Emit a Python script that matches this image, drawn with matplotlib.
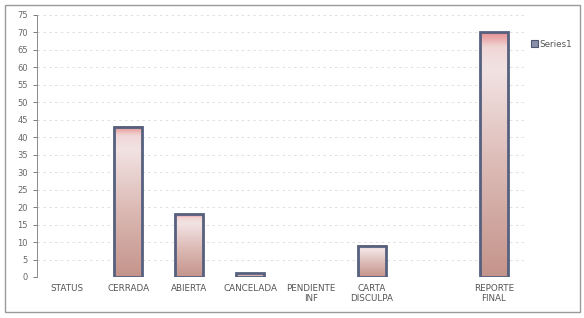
import numpy as np
import matplotlib
matplotlib.use("Agg")
import matplotlib.pyplot as plt
from matplotlib.colors import LinearSegmentedColormap
from matplotlib.patches import Rectangle

categories = ["STATUS", "CERRADA", "ABIERTA", "CANCELADA", "PENDIENTE\nINF",
              "CARTA\nDISCULPA", "", "REPORTE\nFINAL"]
values = [0, 43, 18, 1, 0, 9, 0, 70]
y_ticks = list(range(0, 80, 5))
series_name = "Series1"

fig = plt.figure(figsize=(5.84, 3.18), dpi=100)
fig.patch.set_facecolor("white")
fig.add_artist(Rectangle((0.008, 0.018), 0.985, 0.965, transform=fig.transFigure,
                         fill=False, edgecolor="#9a9a9a", linewidth=1.0))

ax = fig.add_axes([0.063, 0.129, 0.835, 0.824])
x = np.arange(len(categories))
bars = ax.bar(x, values, width=0.46, color="none", edgecolor="#56607f",
              linewidth=2.0, zorder=3)

cmap = LinearSegmentedColormap.from_list(
    "bar", [(0.0, "#c4948b"), (0.45, "#dcbab5"), (0.85, "#f2e3e3"), (0.94, "#f1d6d6"), (1.0, "#e58f8f")])
grad = np.linspace(0, 1, 256).reshape(-1, 1)
for bar in bars:
    h = bar.get_height()
    if h <= 0:
        bar.set_visible(False)
        continue
    x0 = bar.get_x()
    w = bar.get_width()
    ax.imshow(grad, cmap=cmap, origin="lower", aspect="auto",
              extent=(x0, x0 + w, 0, h), zorder=2)

ax.set_xlim(-0.5, len(categories) - 0.5)
ax.set_ylim(0, 75)
ax.set_yticks(y_ticks)
ax.set_xticks(x)
ax.set_xticklabels(categories, fontsize=6.3, color="#555555", linespacing=1.1)
ax.tick_params(axis="y", labelsize=6, colors="#666666", length=3, width=0.6)
ax.tick_params(axis="x", length=0, pad=5)
ax.yaxis.grid(True, color="#dadada", linestyle=(0, (3, 4)), linewidth=0.6)
ax.set_axisbelow(True)
for side in ("top", "right"):
    ax.spines[side].set_visible(False)
ax.spines["left"].set_color("#8a8a8a")
ax.spines["left"].set_linewidth(0.7)
ax.spines["bottom"].set_visible(False)

handle = Rectangle((0, 0), 1, 1, facecolor="#8a8fa8", edgecolor="#4d5670", linewidth=0.8)
fig.legend([handle], [series_name], loc="upper left", bbox_to_anchor=(0.895, 0.9),
           frameon=False, fontsize=6.3, handlelength=0.8, handleheight=0.8,
           handletextpad=0.2, labelcolor="#555555")

fig.savefig("out.png", dpi=100)
